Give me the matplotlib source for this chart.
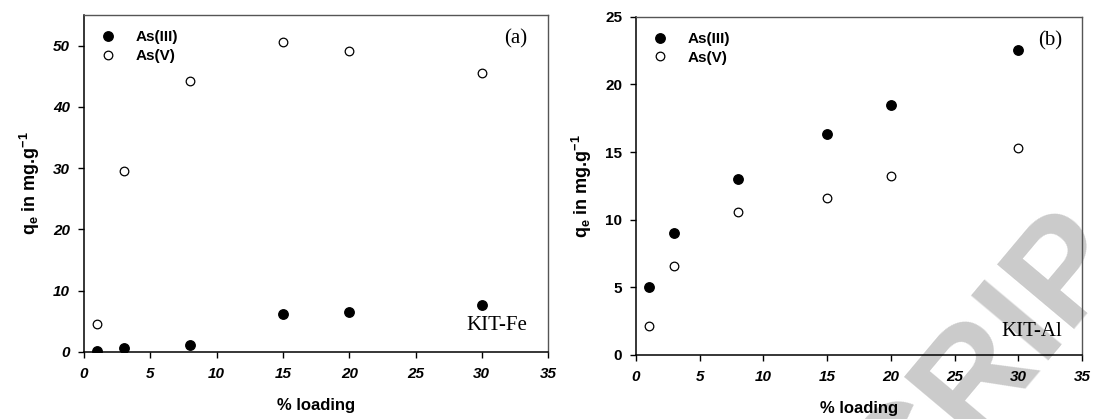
import matplotlib
matplotlib.use("Agg")
import matplotlib.pyplot as plt

plt.rcParams['font.family'] = ['Liberation Sans', 'DejaVu Sans']
plt.rcParams['mathtext.fontset'] = 'custom'
plt.rcParams['mathtext.rm'] = 'Liberation Sans:bold'
plt.rcParams['mathtext.bf'] = 'Liberation Sans:bold'
plt.rcParams['mathtext.it'] = 'Liberation Sans:bold'

# % loading
loading = [1, 3, 8, 15, 20, 30]

# KIT-Fe (a)
fe_as3 = [0.1, 0.6, 1.1, 6.2, 6.6, 7.6]
fe_as5 = [4.6, 29.6, 44.3, 50.6, 49.2, 45.6]

# KIT-Al (b)
al_as3 = [5.05, 9.0, 13.0, 16.35, 18.5, 22.55]
al_as5 = [2.1, 6.55, 10.6, 11.6, 13.25, 15.3]

xticks = [0, 5, 10, 15, 20, 25, 30, 35]

fig = plt.figure(figsize=(11.13, 4.19), dpi=100)
ax1 = fig.add_axes([0.0755, 0.160, 0.417, 0.804])
ax2 = fig.add_axes([0.5714, 0.153, 0.4007, 0.807])

# faint watermark behind the plots (only part of it falls on the page)
fig.text(905 / 1113, -105 / 419, "CRIP", rotation=50, rotation_mode='anchor',
         ha='left', va='baseline', fontsize=105, fontweight='bold', color='#cbcbcb',
         zorder=-5)


def style(ax, ymax, yticks, yitalic):
    ax.set_facecolor('none')
    ax.set_xlim(0, 35)
    ax.set_ylim(0, ymax)
    ax.set_xticks(xticks)
    ax.set_yticks(yticks)
    for lab in ax.get_xticklabels():
        lab.set_fontweight('bold')
        lab.set_fontstyle('italic')
        lab.set_fontsize(11)
    for lab in ax.get_yticklabels():
        lab.set_fontweight('bold')
        lab.set_fontsize(11)
        if yitalic:
            lab.set_fontstyle('italic')
    ax.tick_params(direction='out', length=4, width=1, top=False, right=False)
    ax.tick_params(axis='x', pad=7)
    ax.tick_params(axis='y', pad=6)
    ax.spines['left'].set_linewidth(1.1)
    ax.spines['bottom'].set_linewidth(1.1)
    for s in ['top', 'right']:
        ax.spines[s].set_color('#555555')
        ax.spines[s].set_linewidth(1.0)
    ax.set_xlabel('% loading', fontsize=12, fontweight='bold', labelpad=12)
    ax.set_ylabel(r'$\mathrm{q_e}$ in mg.g$^{\mathrm{-1}}$', fontsize=13,
                  fontweight='bold', labelpad=8)


for ax, as3, as5 in [(ax1, fe_as3, fe_as5), (ax2, al_as3, al_as5)]:
    ax.plot(loading, as3, 'o', color='black', markersize=6.8, label='As(III)')
    ax.plot(loading, as5, 'o', markerfacecolor='white', markeredgecolor='black',
            markeredgewidth=0.9, markersize=6.2, label='As(V)')

style(ax1, 55, [0, 10, 20, 30, 40, 50], True)
style(ax2, 25, [0, 5, 10, 15, 20, 25], False)

for ax in [ax1, ax2]:
    ax.legend(loc='upper left', frameon=False, handletextpad=1.2,
              labelspacing=0.3, borderaxespad=0.6, handlelength=1.2,
              prop={'weight': 'bold', 'size': 11})

ax1.text(0.955, 0.93, '(a)', transform=ax1.transAxes, ha='right', va='center',
         fontsize=15, family='Liberation Serif')
ax1.text(0.955, 0.08, 'KIT-Fe', transform=ax1.transAxes, ha='right', va='center',
         fontsize=15, family='Liberation Serif')
ax2.text(0.955, 0.93, '(b)', transform=ax2.transAxes, ha='right', va='center',
         fontsize=15, family='Liberation Serif')
ax2.text(0.955, 0.07, 'KIT-Al', transform=ax2.transAxes, ha='right', va='center',
         fontsize=15, family='Liberation Serif')

fig.savefig('out.png', dpi=100)
